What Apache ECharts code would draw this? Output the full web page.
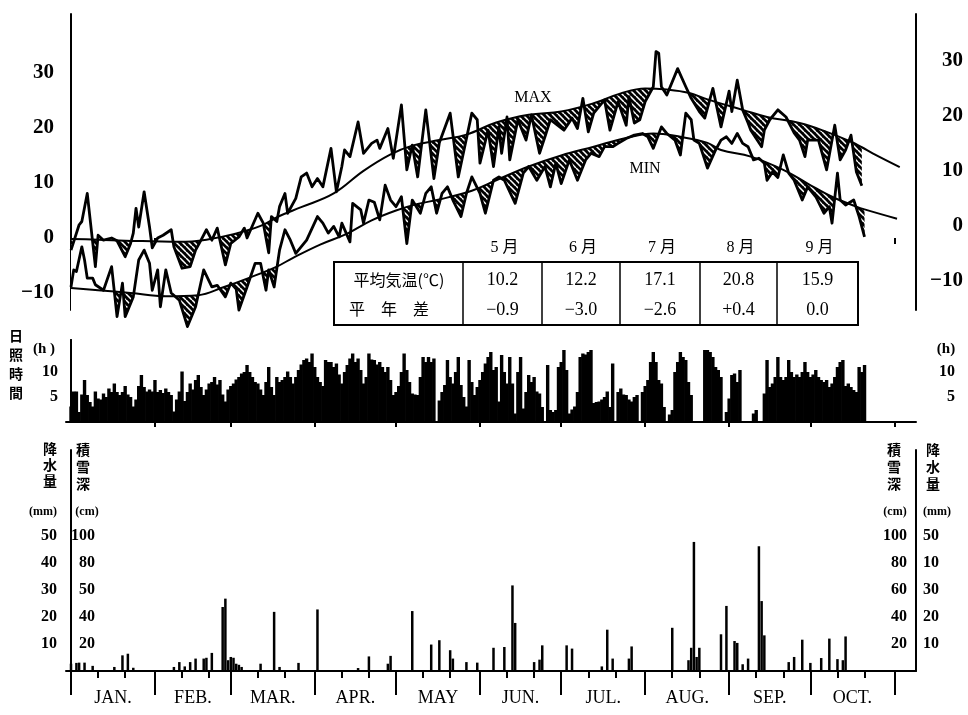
<!DOCTYPE html>
<html>
<head>
<meta charset="utf-8">
<script src="https://cdn.jsdelivr.net/npm/echarts@6.0.0/dist/echarts.min.js"></script>
<style>html,body{margin:0;padding:0;background:#fff}#main{width:968px;height:715px}</style>
</head>
<body>
<div id="main"></div>
<script>
// day numbers count from Jan 1 (= 0)
var monthStarts = [0, 31, 59, 90, 120, 151, 181, 212, 243, 273, 304];
var monthNames = ['JAN.', 'FEB.', 'MAR.', 'APR.', 'MAY', 'JUN.', 'JUL.', 'AUG.', 'SEP.', 'OCT.'];
var tempTicks = [-10, 0, 10, 20, 30];
var sunTicks = [5, 10];
var rainTicks = [10, 20, 30, 40, 50];
var rainLabelsLeft = ['10', '20', '30', '40', '50'];
var snowLabelsLeft = ['20', '40', '50', '80', '100'];
var rainLabelsRight = ['10', '20', '30', '10', '50'];
var snowLabelsRight = ['20', '40', '60', '80', '100'];

// normal (平年) max / min temperature, [day, degC]
var maxNormal = [[0,-0.2],[10,-0.3],[20,-0.5],[30,-0.6],[40,-0.7],[50,-0.3],[60,0.7],[70,2.2],[77,4.0],[85,5.6],[97,8.1],[108,12.2],[118,15.2],[126,16.8],[136,17.8],[146,18.8],[157,21.0],[169,22.4],[181,23.0],[193,24.5],[203,26.3],[212,27.2],[220,27.0],[228,26.4],[235,25.2],[248,23.3],[257,22.0],[269,20.9],[279,19.3],[288,17.5],[292,16.5],[296,15.4],[306,12.9]];
var minNormal = [[0,-9.1],[10,-9.5],[22,-10.0],[35,-10.6],[47,-10.4],[56,-9.0],[66,-7.2],[76,-5.2],[82,-3.6],[92,-1.2],[102,0.8],[111,3.2],[120,5.0],[128,6.2],[136,7.0],[148,8.6],[157,10.5],[169,13.0],[181,15.0],[193,16.6],[205,18.2],[215,19.0],[225,18.4],[235,17.3],[240,16.0],[251,14.8],[263,12.4],[272,9.9],[281,7.5],[290,5.7],[293,5.2],[305,3.5]];

// observed daily max / min temperature, [day, degC]
var maxObs = [[0,-2.2],[3,2.4],[4,3.0],[6,8.1],[9,-5.2],[10,0.5],[12,-0.4],[15,0],[17,-0.5],[20,-3.4],[22,-1],[23,0.9],[24,5.4],[25,2.0],[27,8.4],[29,2.0],[30,-1.8],[32,0],[34,0.5],[37,1.5],[38,-1.6],[41,-5.5],[44,-5.2],[46,-2.2],[48,-0.4],[50,1.5],[52,-0.4],[54,1.8],[57,-4.9],[59,-1],[62,0.2],[64,1.8],[65,0],[69,4.5],[71,2.7],[73,-2.7],[74,3.9],[76,3.0],[77,5.7],[79,8.1],[80,4.5],[83,7.2],[85,11.1],[87,11.8],[89,9.3],[91,10.8],[93,9.3],[96,16.3],[98,8.4],[100,13],[101,16],[103,14.8],[106,21.1],[108,15.4],[111,17.2],[113,17.8],[114,16.3],[117,19.9],[119,14.5],[122,24.2],[124,12.4],[126,16.9],[128,11.1],[131,23.3],[134,10.8],[136,17.3],[140,22.7],[143,11.1],[148,22.7],[150,21.5],[151,13.6],[154,19.6],[156,13],[158,20.2],[159,15.4],[161,22],[162,14.2],[165,21.5],[168,17.8],[170,22.4],[173,15.4],[175,18.4],[177,21.5],[182,19.6],[185,21.8],[187,19.9],[189,25.4],[191,19.3],[193,22.7],[197,25.1],[199,19.6],[202,24.8],[205,20.5],[206,25.7],[208,20.9],[210,21.5],[212,24.8],[215,27.5],[216,33.9],[217,33.6],[218,27.5],[220,26],[224,30.8],[227,27.5],[229,25.4],[232,23],[234,21.8],[237,27.2],[240,20.2],[243,26.7],[244,23],[246,28.7],[248,23.3],[250,20.9],[251,19.6],[255,16.6],[256,19.6],[258,21.5],[261,23.3],[264,22],[267,19.1],[269,17.8],[271,14.8],[272,17.8],[276,17.8],[279,12.4],[282,20.5],[284,14.2],[286,16],[288,18.7],[290,12],[292,9.5]];
var minObs = [[0,-8.9],[1,-5.8],[2,-6.1],[4,-1.6],[5,-4],[6,-7.3],[8,-7.3],[9,-8.5],[12,-9.5],[15,-5.2],[17,-14.3],[19,-8.2],[20,-14.3],[23,-10.7],[25,-4],[27,-2.2],[29,-4.6],[30,-9.5],[32,-5.8],[33,-12.5],[35,-5.8],[37,-10],[40,-11.3],[43,-16.1],[46,-12.5],[49,-5.8],[52,-8.9],[54,-8.6],[57,-10.7],[59,-8.2],[61,-9.3],[62,-13.1],[65,-8.9],[68,-4.6],[70,-4.6],[72,-9.5],[73,-5.8],[75,-8.9],[77,-2.2],[79,1.5],[81,-0.4],[83,-2.8],[87,-0.4],[91,3.9],[93,2.7],[95,0.9],[97,2.1],[99,0.2],[100,2.7],[103,-0.7],[104,6.3],[107,5.1],[108,2.7],[110,6.9],[112,6.5],[114,3.3],[116,9.6],[118,6.9],[120,5.7],[122,7.5],[124,-1],[126,6.9],[129,4.5],[131,8.1],[133,9.3],[135,4.5],[137,8.1],[139,9.3],[141,6.9],[144,3.9],[146,8.1],[148,11.1],[151,8.1],[153,4.5],[156,10.5],[158,11.1],[160,10.5],[164,6.3],[167,11.8],[169,13],[172,10.5],[175,13],[177,9.3],[179,13.6],[181,9.9],[184,14.2],[187,10.5],[190,14.2],[192,15.4],[195,14.8],[197,16.6],[200,16.6],[202,17.2],[205,18.1],[208,18.7],[211,19],[213,18.4],[215,16.3],[218,20.2],[220,19],[223,17.8],[225,15.1],[227,22.7],[229,21.5],[230,17.8],[232,17.2],[235,12.7],[238,16],[240,17.8],[242,18.4],[244,17.2],[246,19],[248,17.2],[250,16.6],[252,14.2],[254,14.5],[256,13.6],[257,10.5],[259,12],[261,11],[263,15.1],[265,11.8],[267,10.5],[270,6.9],[272,9.3],[275,7.5],[278,4.5],[280,5.7],[281,2.7],[283,11.8],[284,6.9],[286,6],[289,6.9],[291,3.9],[293,0.2]];

// 日照時間 (h), one value per day from Jan 1
var sunshine = [
3.1,6.1,6.1,2.0,5.5,8.4,5.4,4.0,3.1,6.1,
4.7,4.5,5.7,5.0,6.7,6.0,7.7,6.0,5.4,6.0,
7.2,5.5,5.0,3.1,4.5,7.2,9.4,7.0,6.1,6.5,
6.1,8.4,6.0,6.4,5.8,6.7,6.0,5.4,2.1,4.5,
6.1,10.1,4.2,6.0,7.7,6.5,8.4,9.4,7.0,5.4,
6.5,7.7,8.0,9.0,7.5,8.4,5.5,4.1,6.5,7.2,
7.7,8.5,9.0,9.7,10.0,11.4,10.0,9.0,8.0,7.7,
6.5,5.4,8.0,11.0,7.0,5.4,9.0,8.0,8.4,9.0,
10.1,9.0,7.7,9.0,10.4,11.5,12.4,12.7,12.0,13.7,
11.0,9.0,8.0,7.2,12.4,12.0,12.0,11.0,11.7,9.5,
7.7,10.0,11.4,12.7,13.7,12.0,12.7,10.4,7.7,9.0,
13.7,12.5,12.4,11.5,12.0,11.0,10.0,11.0,8.4,5.4,
6.0,7.2,10.0,13.7,10.4,8.0,5.7,5.5,5.4,9.0,
13.0,12.0,13.0,12.0,12.7,0,4.3,6.0,7.4,12.4,
9.0,7.7,10.0,13.0,7.4,5.0,3.1,12.4,8.0,5.4,
7.0,8.4,10.0,11.7,13.0,14.0,10.4,11.0,4.1,13.4,
10.0,7.7,13.0,7.7,1.7,10.0,13.0,2.7,6.0,9.4,
8.0,9.0,6.1,5.7,3.0,0,11.4,2.4,2.0,2.4,
11.0,12.0,14.4,10.4,1.7,2.5,3.1,6.0,13.0,13.7,
13.5,14.0,14.4,3.8,4.0,4.1,4.5,5.0,6.1,3.0,
11.7,0,6.0,6.7,5.5,5.4,4.5,4.1,5.0,5.4,
0,6.0,7.2,8.4,12.0,14.0,12.0,8.4,7.7,3.0,
0,1.5,2.4,10.0,12.0,14.0,13.0,12.4,8.0,5.4,
0,0,0,0,14.4,14.4,14.0,13.0,11.0,10.4,
9.0,0,2.0,4.7,9.4,9.7,8.0,10.4,0,0,
0,0,1.7,2.4,0,0,5.7,12.4,7.0,7.7,
9.0,13.0,9.0,8.4,9.0,12.4,10.0,9.0,9.5,9.0,
10.0,12.0,10.0,9.0,9.5,10.4,9.0,8.4,8.0,8.4,
7.0,7.7,9.0,11.0,12.0,12.4,7.2,7.7,7.0,6.4,
6.0,11.0,10.0,11.4
];

// 降水量 (mm)
var rainDays = [0,2,3,5,8,16,19,21,23,38,40,42,44,46,49,50,52,56,57,58,59,60,61,62,63,70,75,77,84,91,106,110,117,118,126,133,136,140,141,146,150,156,160,163,164,171,173,174,183,185,196,198,200,206,207,222,228,229,230,231,232,240,242,245,246,248,250,254,255,256,265,267,270,273,277,280,283,285,286];
var rainMm = [2.7,3.0,3.1,3.1,1.9,1.5,5.8,6.4,1.2,1.5,3.3,1.7,3.3,4.6,4.6,4.9,6.7,23.7,26.8,4.0,5.2,4.9,2.7,2.3,1.5,2.7,21.9,1.5,3.0,22.8,1.1,5.4,2.7,5.6,22.2,9.8,11.4,7.7,4.6,3.3,3.1,8.6,8.9,31.7,17.8,3.3,4.2,9.5,9.5,8.3,1.7,15.3,4.6,4.6,9.1,16.0,4.0,8.6,47.8,5.2,8.6,13.6,24.1,11.1,10.4,2.5,4.6,46.2,25.9,13.2,3.3,5.2,11.6,3.0,4.8,12.0,4.4,4.0,12.8];

// monthly table
var tableMonths = ['5 月', '6 月', '7 月', '8 月', '9 月'];
var tableMean = ['10.2', '12.2', '17.1', '20.8', '15.9'];
var tableDiff = ['−0.9', '−3.0', '−2.6', '+0.4', '0.0'];

// ---------------------------------------------------------------
var monthMid = [];
for (var i = 0; i < monthNames.length; i++) monthMid.push((monthStarts[i] + monthStarts[i + 1]) / 2);
var minorDays = [];
for (var i = 0; i < monthNames.length; i++) { minorDays.push(monthStarts[i] + 10); minorDays.push(monthStarts[i] + 20); }

function upTo(arr, last) { return arr.filter(function (p) { return p[0] <= last; }); }
var maxEnd = maxObs[maxObs.length - 1];
var minEnd = minObs[minObs.length - 1];

function hatch() {
    var c = document.createElement('canvas');
    c.width = 6; c.height = 6;
    var g = c.getContext('2d');
    g.fillStyle = '#000'; g.fillRect(0, 0, 6, 6);
    g.strokeStyle = '#fff'; g.lineWidth = 1.5;
    g.beginPath();
    [-6, 0, 6].forEach(function (o) { g.moveTo(o, 0); g.lineTo(o + 6, 6); });
    g.stroke();
    return { image: c, repeat: 'repeat' };
}
var hatchFill = hatch();

var SERIF = '"Liberation Serif", "DejaVu Serif", serif';
var JP = '"Noto Sans CJK JP", sans-serif';
function fmtTemp(v) { return v < 0 ? '−' + Math.abs(v) : String(v); }
function pick(ticks, labels) {
    return function (v) {
        for (var k = 0; k < ticks.length; k++) if (Math.abs(ticks[k] - v) < 0.01) return labels[k];
        return '';
    };
}

var L = 66, W = 850;
var XMIN = -1560 / 845, XMAX = 312;   // day 0 falls on a whole pixel
var TMIN = -17.091;
function xAx(grid, extra) {
    return Object.assign({ type: 'value', gridIndex: grid, min: XMIN, max: XMAX, show: true,
        splitLine: { show: false }, axisLine: { show: false }, axisTick: { show: false }, axisLabel: { show: false } }, extra || {});
}
function yAx(grid, min, max, extra) {
    return Object.assign({ type: 'value', gridIndex: grid, min: min, max: max,
        splitLine: { show: false }, axisTick: { show: false },
        axisLine: { show: true, lineStyle: { color: '#000', width: 2 } } }, extra || {});
}
var lineBlack = { color: '#000', width: 2 };
// white edge closing the cover area at the last observed day
function endEdge(p, z) {
    return { silent: true, z: z, symbol: ['none', 'none'], label: { show: false },
        lineStyle: { color: '#fff', width: 2, type: 'solid', opacity: 1 },
        data: [[{ coord: [p[0], p[1]] }, { coord: [p[0], TMIN] }]] };
}

var dom = document.getElementById('main');
var myChart = echarts.init(dom);

var graphic = [];
function txt(x, y, s, font, align, extra) {
    graphic.push(Object.assign({ type: 'text', z: 100, style: { x: x, y: y, text: s, font: font, fill: '#000',
        align: align || 'center', verticalAlign: 'middle' } }, extra || {}));
}
// table
var cols = [334, 463, 542, 620, 700, 777, 858];
graphic.push({ type: 'rect', z: 99, shape: { x: 334, y: 262, width: 524, height: 63 }, style: { fill: '#fff', stroke: '#000', lineWidth: 2 } });
for (var k = 1; k < cols.length - 1; k++) {
    graphic.push({ type: 'line', z: 100, shape: { x1: cols[k], y1: 262, x2: cols[k], y2: 325 }, style: { stroke: '#000', lineWidth: 1.5 } });
}
for (var k = 0; k < tableMonths.length; k++) {
    var cx = (cols[k + 1] + cols[k + 2]) / 2;
    txt(cx + 2, 248, tableMonths[k], '16px ' + SERIF + ', ' + JP);
    txt(cx, 280, tableMean[k], '18px ' + SERIF);
    txt(cx, 310, tableDiff[k], '18px ' + SERIF);
}
txt(399, 280, '平均気温(℃)', '16px ' + JP);
txt(389, 309, '平　年　差', '16px ' + JP);
txt(533, 98, 'MAX', '16px ' + SERIF);
txt(645, 169, 'MIN', '16px ' + SERIF);
// axis titles
var vt = function (x, y, s, lh) {
    graphic.push({ type: 'text', z: 100, style: { x: x, y: y, text: s, font: 'bold 14px ' + JP, fill: '#000', align: 'center', verticalAlign: 'top', lineHeight: lh } });
};
vt(16, 326, '日\n照\n時\n間', 19);
txt(44, 349, '(h )', 'bold 15px ' + SERIF);
txt(946, 349, '(h)', 'bold 15px ' + SERIF);
vt(50, 441, '降\n水\n量', 16);
vt(83, 441, '積\n雪\n深', 17);
txt(43, 512, '(mm)', 'bold 12px ' + SERIF);
txt(87, 512, '(cm)', 'bold 12px ' + SERIF);
vt(894, 441, '積\n雪\n深', 17);
vt(933, 441, '降\n水\n量', 17);
txt(895, 512, '(cm)', 'bold 12px ' + SERIF);
txt(937, 512, '(mm)', 'bold 12px ' + SERIF);

var option = {
    animation: false,
    backgroundColor: '#fff',
    grid: [
        { left: L, width: W, top: 14, height: 318, containLabel: false, outerBoundsMode: 'none' },
        { left: L, width: W, top: 14, height: 296, containLabel: false, outerBoundsMode: 'none' },
        { left: L, width: W, top: 340, height: 82, containLabel: false, outerBoundsMode: 'none' },
        { left: L, width: W, top: 450, height: 221, containLabel: false, outerBoundsMode: 'none' }
    ],
    xAxis: [
        xAx(0, { show: false }),
        xAx(1, { position: 'top', axisTick: { show: true, inside: true, length: 6, customValues: monthStarts.slice(1), lineStyle: lineBlack } }),
        xAx(2, { position: 'bottom', axisLine: { show: true, lineStyle: lineBlack },
            axisTick: { show: true, length: 5, customValues: monthStarts.slice(1), lineStyle: lineBlack } }),
        xAx(2, { position: 'top', axisTick: { show: true, inside: true, length: 3, customValues: monthStarts.slice(1), lineStyle: lineBlack } }),
        xAx(3, { position: 'bottom', axisLine: { show: true, lineStyle: lineBlack },
            axisTick: { show: true, length: 24, customValues: monthStarts, lineStyle: lineBlack },
            axisLabel: { show: true, customValues: monthMid, margin: 18, color: '#000', fontSize: 18, fontFamily: SERIF,
                formatter: pick(monthMid, monthNames) } }),
        xAx(3, { position: 'bottom', axisTick: { show: true, length: 7, customValues: minorDays, lineStyle: lineBlack } })
    ],
    yAxis: [
        { type: 'value', gridIndex: 0, min: TMIN, max: 40.727, show: false, splitLine: { show: false } },
        yAx(1, -13.091, 40.727, { position: 'left',
            axisLabel: { customValues: tempTicks, formatter: fmtTemp, margin: 12, color: '#000', fontSize: 21, fontWeight: 'bold', fontFamily: SERIF } }),
        yAx(1, -15.273, 38.545, { position: 'right',
            axisLabel: { customValues: tempTicks, formatter: fmtTemp, margin: 47, align: 'right', color: '#000', fontSize: 21, fontWeight: 'bold', fontFamily: SERIF } }),
        yAx(2, 0, 16.4, { position: 'left',
            axisLabel: { customValues: sunTicks, margin: 8, color: '#000', fontSize: 16, fontWeight: 'bold', fontFamily: SERIF } }),
        yAx(2, 0, 16.4, { position: 'right',
            axisLabel: { customValues: sunTicks, margin: 39, align: 'right', color: '#000', fontSize: 16, fontWeight: 'bold', fontFamily: SERIF } }),
        yAx(3, 0, 81.85, { position: 'left',
            axisLabel: { customValues: rainTicks, formatter: pick(rainTicks, rainLabelsLeft), margin: 9, color: '#000', fontSize: 16, fontWeight: 'bold', fontFamily: SERIF } }),
        yAx(3, 0, 81.85, { position: 'left', axisLine: { show: false },
            axisLabel: { customValues: rainTicks, formatter: pick(rainTicks, snowLabelsLeft), inside: true, align: 'right', margin: 29, color: '#000', fontSize: 16, fontWeight: 'bold', fontFamily: SERIF } }),
        yAx(3, 0, 81.85, { position: 'right',
            axisLabel: { customValues: rainTicks, formatter: pick(rainTicks, rainLabelsRight), margin: 7, color: '#000', fontSize: 16, fontWeight: 'bold', fontFamily: SERIF } }),
        yAx(3, 0, 81.85, { position: 'right', axisLine: { show: false },
            axisLabel: { customValues: rainTicks, formatter: pick(rainTicks, snowLabelsRight), inside: true, margin: 9, color: '#000', fontSize: 16, fontWeight: 'bold', fontFamily: SERIF } })
    ],
    graphic: graphic,
    series: [
        { name: 'maxHatch', type: 'line', xAxisIndex: 0, yAxisIndex: 0, data: upTo(maxNormal, maxEnd[0]), smooth: 0.4, showSymbol: false,
            lineStyle: { width: 0, opacity: 0 }, areaStyle: { color: hatchFill, opacity: 1, origin: 'start' }, z: 1, silent: true },
        { name: 'maxCover', type: 'line', xAxisIndex: 0, yAxisIndex: 0, data: maxObs, showSymbol: false,
            lineStyle: { width: 0, opacity: 0 }, areaStyle: { color: '#fff', opacity: 1, origin: 'start' }, z: 1, silent: true,
            markLine: endEdge(maxEnd, 2) },
        { name: 'minHatch', type: 'line', xAxisIndex: 0, yAxisIndex: 0, data: upTo(minNormal, minEnd[0]), smooth: 0.4, showSymbol: false,
            lineStyle: { width: 0, opacity: 0 }, areaStyle: { color: hatchFill, opacity: 1, origin: 'start' }, z: 2, silent: true },
        { name: 'minCover', type: 'line', xAxisIndex: 0, yAxisIndex: 0, data: minObs, showSymbol: false,
            lineStyle: { width: 0, opacity: 0 }, areaStyle: { color: '#fff', opacity: 1, origin: 'start' }, z: 2, silent: true,
            markLine: endEdge(minEnd, 3) },
        { name: 'MAX normal', type: 'line', xAxisIndex: 0, yAxisIndex: 0, data: maxNormal, smooth: 0.4, showSymbol: false,
            lineStyle: { color: '#000', width: 2 }, z: 4 },
        { name: 'MIN normal', type: 'line', xAxisIndex: 0, yAxisIndex: 0, data: minNormal, smooth: 0.4, showSymbol: false,
            lineStyle: { color: '#000', width: 2 }, z: 4 },
        { name: 'MAX', type: 'line', xAxisIndex: 0, yAxisIndex: 0, data: maxObs, showSymbol: false,
            lineStyle: { color: '#000', width: 2.8, join: 'round' }, z: 5 },
        { name: 'MIN', type: 'line', xAxisIndex: 0, yAxisIndex: 0, data: minObs, showSymbol: false,
            lineStyle: { color: '#000', width: 2.8, join: 'round' }, z: 5 },
        { name: '日照時間', type: 'bar', xAxisIndex: 2, yAxisIndex: 3, barWidth: 3.4,
            data: sunshine.map(function (v, d) { return [d, v]; }), itemStyle: { color: '#000' } },
        { name: '降水量', type: 'bar', xAxisIndex: 4, yAxisIndex: 5, barWidth: 2.5,
            data: rainDays.map(function (d, k) { return [d, rainMm[k]]; }), itemStyle: { color: '#000' } }
    ]
};
myChart.setOption(option);
</script>
</body>
</html>
